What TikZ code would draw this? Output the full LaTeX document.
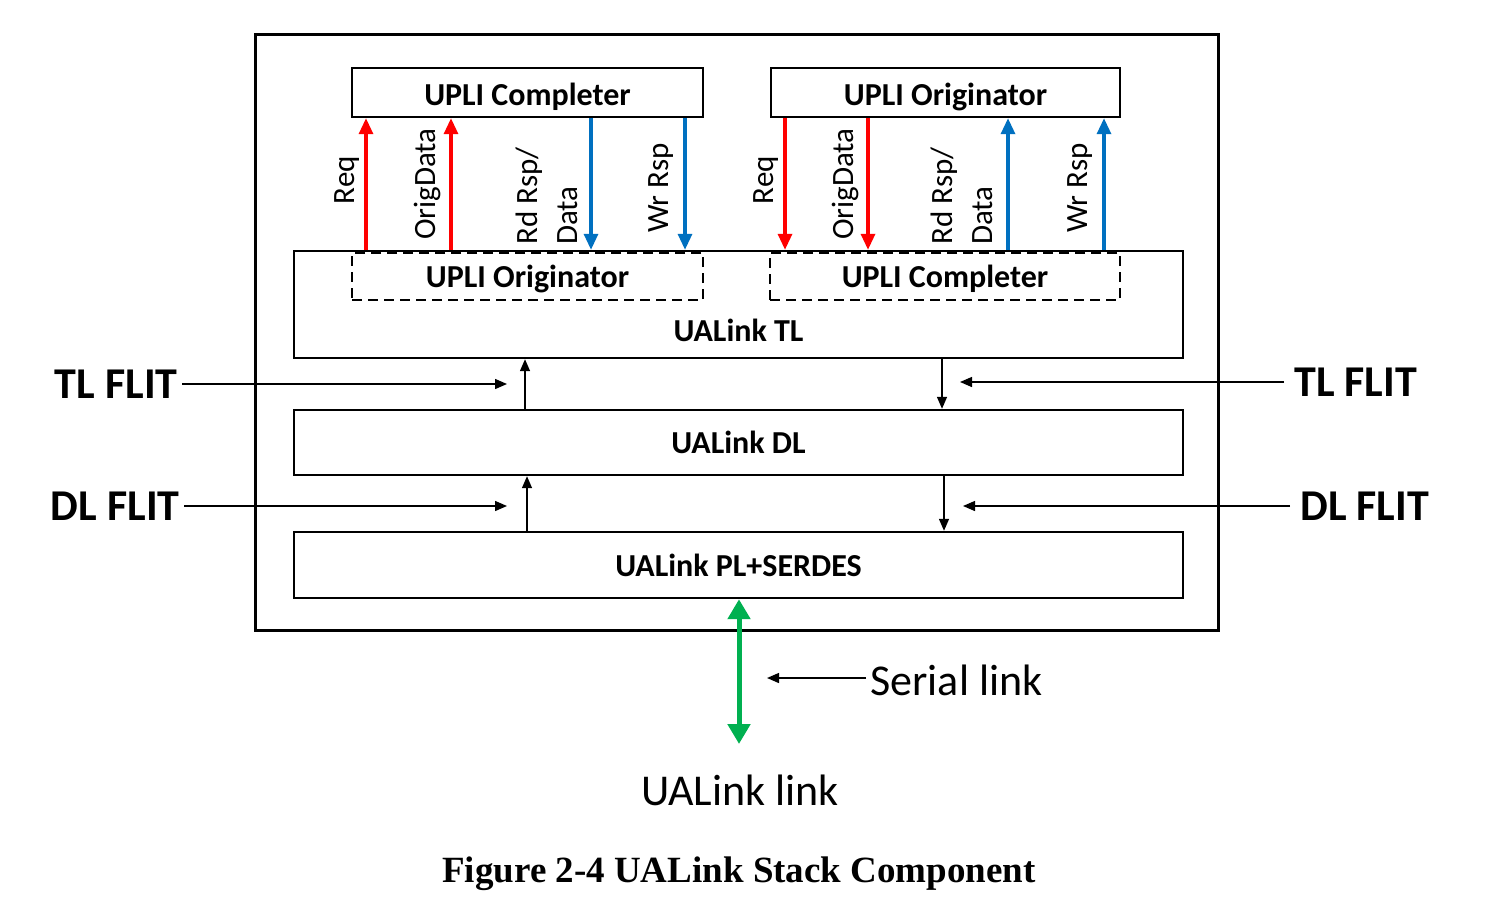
\documentclass[tikz,border=0pt]{standalone}
\usepackage{fontspec}
\setmainfont{Carlito}
\newfontfamily\capfont{Liberation Serif}
\usetikzlibrary{arrows.meta}
\definecolor{reqred}{RGB}{255,0,0}
\definecolor{rspblue}{RGB}{0,112,192}
\definecolor{linkgreen}{RGB}{0,176,80}
\tikzset{
	block/.style={draw, line width=1.2pt, inner sep=0pt},
	upli/.style={block, font=\fontsize{16}{19}\selectfont\bfseries, minimum height=24.5pt, text height=16pt, text depth=3.5pt},
	dashbox/.style={block, dashed, dash pattern=on 5pt off 3pt, minimum height=23.5pt},
	sig/.style={font=\fontsize{15.5}{20}\selectfont, rotate=90, align=left, inner sep=0pt},
	flit/.style={font=\fontsize{22}{26}\selectfont\bfseries, inner sep=2pt},
	bigtext/.style={font=\fontsize{22}{26}\selectfont, inner sep=2pt},
	flow/.style={line width=0.7pt, -{Triangle[length=6pt,width=5pt]}},
	reqarrow/.style={reqred, line width=1.6pt, -{Triangle[length=8pt,width=7pt]}},
	rsparrow/.style={rspblue, line width=1.6pt, -{Triangle[length=8pt,width=7pt]}}
}
\begin{document}
\begin{tikzpicture}[x=0.5pt,y=-0.5pt]
		\useasboundingbox (0,0) rectangle (1486,920);
		
		\node[block, line width=1.5pt, minimum width=481.5pt, minimum height=297.5pt] (stack) at (736.5,332.5) {};
		
		\node[upli, minimum width=175.5pt] (cmpL) at (527.5,92.5) {UPLI Completer};
		\node[upli, minimum width=174.5pt] (orgR) at (945.5,92.5) {UPLI Originator};
		
		\node[block, minimum width=444.5pt, minimum height=53.5pt] (tl) at (738.5,304.5) {};
		\node[dashbox, minimum width=175.5pt] (orgL) at (527.5,276.5) {};
		\node[dashbox, minimum width=175pt] (cmpR) at (945,276.5) {};
		\node[font=\fontsize{16}{19}\selectfont\bfseries] (orgLtxt) at (527.5,279) {UPLI Originator};
		\node[font=\fontsize{16}{19}\selectfont\bfseries] (cmpRtxt) at (945,279) {UPLI Completer};
		\node[font=\fontsize{16}{19}\selectfont\bfseries] (tltxt) at (738.5,330) {UALink TL};
		
		\node[block, minimum width=444.5pt, minimum height=32.5pt, font=\fontsize{16}{19}\selectfont\bfseries] (dl) at (738.5,442.5) {UALink DL};
		\node[block, minimum width=444.5pt, minimum height=33pt, font=\fontsize{16}{19}\selectfont\bfseries] (pl) at (738.5,565) {UALink PL+SERDES};
		
		% signals between the UPLI blocks and the TL
		\coordinate (reqL) at (366,0);  \coordinate (odL) at (451,0);
		\coordinate (rdL) at (591,0);   \coordinate (wrL) at (685,0);
		\coordinate (reqR) at (785,0);  \coordinate (odR) at (868,0);
		\coordinate (rdR) at (1008,0);  \coordinate (wrR) at (1104,0);
		
		\draw[reqarrow] (tl.north -| reqL) -- (cmpL.south -| reqL);
		\draw[reqarrow] (tl.north -| odL) -- (cmpL.south -| odL);
		\draw[rsparrow] (cmpL.south -| rdL) -- (tl.north -| rdL);
		\draw[rsparrow] (cmpL.south -| wrL) -- (tl.north -| wrL);
		\draw[reqarrow] (orgR.south -| reqR) -- (tl.north -| reqR);
		\draw[reqarrow] (orgR.south -| odR) -- (tl.north -| odR);
		\draw[rsparrow] (tl.north -| rdR) -- (orgR.south -| rdR);
		\draw[rsparrow] (tl.north -| wrR) -- (orgR.south -| wrR);
		
		\node[sig] (reqLtxt) at (347,180) {Req};
		\node[sig] (odLtxt) at (427,184) {OrigData};
		\node[sig] (rdLtxt) at (547,196) {Rd Rsp/\\Data};
		\node[sig] (wrLtxt) at (661,188) {Wr Rsp};
		\node[sig] (reqRtxt) at (766,180) {Req};
		\node[sig] (odRtxt) at (845,184) {OrigData};
		\node[sig] (rdRtxt) at (962,196) {Rd Rsp/\\Data};
		\node[sig] (wrRtxt) at (1080,188) {Wr Rsp};
		
		% flits
		\coordinate (upTL) at (525,0);  \coordinate (dnTL) at (942,0);
		\coordinate (upDL) at (527,0);  \coordinate (dnDL) at (944,0);
		\draw[flow] (dl.north -| upTL) -- (tl.south -| upTL);
		\draw[flow] (tl.south -| dnTL) -- (dl.north -| dnTL);
		\draw[flow] (pl.north -| upDL) -- (dl.south -| upDL);
		\draw[flow] (dl.south -| dnDL) -- (pl.north -| dnDL);
		
		\node[flit, anchor=east] (tlflitL) at (182,384) {TL FLIT};
		\node[flit, anchor=west] (tlflitR) at (1290,382) {TL FLIT};
		\node[flit, anchor=east] (dlflitL) at (184,506) {DL FLIT};
		\node[flit, anchor=west] (dlflitR) at (1296,506) {DL FLIT};
		\coordinate (tlinL) at (507,384);  \coordinate (tlinR) at (960,382);
		\coordinate (dlinL) at (507,506);  \coordinate (dlinR) at (963,506);
		\draw[flow] (tlflitL.east) -- (tlinL);
		\draw[flow] (tlflitR.west) ++(-6,0) -- (tlinR);
		\draw[flow] (dlflitL.east) -- (dlinL);
		\draw[flow] (dlflitR.west) ++(-6,0) -- (dlinR);
		
		% link
		\coordinate (linkend) at (739,744);
		\draw[linkgreen, line width=2.5pt, {Triangle[length=10pt,width=11pt]}-{Triangle[length=10pt,width=11pt]}] (pl.south -| linkend) -- (linkend);
		\node[bigtext, anchor=west] (serial) at (866,680) {Serial link};
		\coordinate (serialend) at (767,678);
		\draw[flow] (serial.west |- serialend) -- (serialend);
		\node[bigtext] (ualink) at (740,790) {UALink link};
		
		\node[font=\capfont\fontsize{18.5}{22}\selectfont\bfseries] (caption) at (739,874) {Figure 2-4 UALink Stack Component};
	\end{tikzpicture}
\end{document}
